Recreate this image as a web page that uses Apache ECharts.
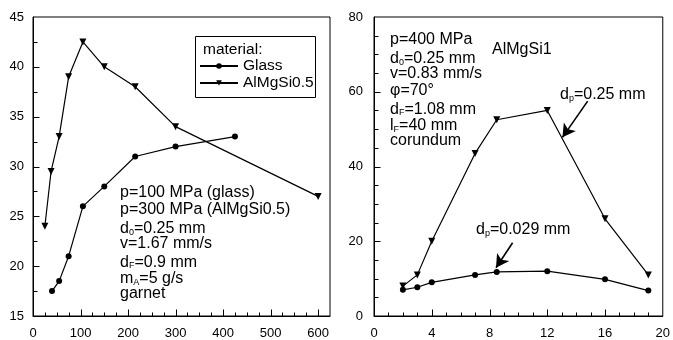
<!DOCTYPE html>
<html>
<head>
<meta charset="utf-8">
<script src="https://cdn.jsdelivr.net/npm/echarts@6/dist/echarts.min.js"></script>
<style>
  html, body { margin: 0; padding: 0; background: #fff; }
  #chart { width: 673px; height: 340px; }
</style>
</head>
<body>
<div id="chart"></div>
<script>
// Left panel: nozzle wear vs. time for glass and AlMgSi0.5
const glassX = [40, 55, 75, 105, 150, 215, 300, 425];
const glassY = [17.5, 18.5, 21, 26, 28, 31, 32, 33];
const almgsi05X = [25, 38, 55, 75, 105, 150, 215, 300, 600];
const almgsi05Y = [24, 29.5, 33, 39, 42.5, 40, 38, 34, 27];

// Right panel: AlMgSi1, two particle diameters
const coarseX = [2, 3, 4, 7, 8.5, 12, 16, 19];
const coarseY = [8, 11, 20, 43.5, 52.5, 55, 26, 11];
const fineX = [2, 3, 4, 7, 8.5, 12, 16, 19];
const fineY = [7, 7.7, 9, 11, 11.8, 12, 9.8, 6.8];

// Axis ranges, label steps and minor tick steps
const leftX = { min: 0, max: 625, step: 100, minor: 25 };
const leftY = { min: 15, max: 45, step: 5, minor: 2.5 };
const rightX = { min: 0, max: 20, step: 4, minor: 1 };
const rightY = { min: 0, max: 80, step: 20, minor: 5 };

// Legend
const legendTitle = 'material:';
const seriesNames = ['Glass', 'AlMgSi0.5'];

// Parameter notes ({s|..} marks a subscript)
const leftNotes = [
  '{n|p=100 MPa (glass)}',
  '{n|p=300 MPa (AlMgSi0.5)}',
  '{n|d}{s|0}{n|=0.25 mm}',
  '{n|v=1.67 mm/s}',
  '{n|d}{s|F}{n|=0.9 mm}',
  '{n|m}{s|A}{n|=5 g/s}',
  '{n|garnet}'
];
const rightNotes = [
  '{n|p=400 MPa}',
  '{n|d}{s|0}{n|=0.25 mm}',
  '{n|v=0.83 mm/s}',
  '{n|φ=70°}',
  '{n|d}{s|F}{n|=1.08 mm}',
  '{n|l}{s|F}{n|=40 mm}',
  '{n|corundum}'
];
const materialLabel = 'AlMgSi1';
const coarseLabel = '{n|d}{s|p}{n|=0.25 mm}';
const fineLabel = '{n|d}{s|p}{n|=0.029 mm}';

// Arrow annotations in data units: [from, to]
const coarseArrow = [[14.8, 57.5], [13.05, 47.8]];
const fineArrow = [[9.6, 19.6], [8.45, 12.9]];

const FONT = '"Liberation Sans", Arial, sans-serif';
const rich = {
  n: { fontSize: 16, lineHeight: 16, verticalAlign: 'top', fontFamily: FONT, fill: '#000' },
  s: { fontSize: 9, lineHeight: 9, padding: [9, 0, 0, 0], verticalAlign: 'bottom', fontFamily: FONT, fill: '#000' }
};

function zip(xs, ys) { return xs.map((x, i) => [x, ys[i]]); }

function noteBlock(lines, left, firstCenter, step) {
  return lines.map((t, i) => ({
    type: 'text', left: left, top: firstCenter - 8 + i * step, silent: true,
    style: { text: t, rich: rich, fill: '#000' }
  }));
}

function labelStyle(extra) {
  return Object.assign({ color: '#000', fontSize: 13, fontFamily: FONT }, extra);
}
function axisLine() {
  return { show: true, onZero: false, lineStyle: { color: '#000', width: 1 } };
}

// Tick positions along an axis: [value, length], long ticks on label steps
function tickList(ax, majorLen, minorLen) {
  const out = [];
  const n = Math.round((ax.max - ax.min) / ax.minor);
  for (let i = 1; i < n; i++) {
    const v = ax.min + i * ax.minor;
    const isMajor = Math.abs(v / ax.step - Math.round(v / ax.step)) < 1e-6;
    out.push([v, isMajor ? majorLen : minorLen]);
  }
  return out;
}

const staticGraphics = [
  { type: 'rect', silent: true, z: 1, shape: { x: 195.5, y: 36.5, width: 120, height: 61 },
    style: { fill: 'none', stroke: '#000', lineWidth: 1 } },
  { type: 'text', left: 203, top: 42, silent: true,
    style: { text: legendTitle, fontSize: 15.5, fontFamily: FONT, fill: '#000' } },
  ...noteBlock(leftNotes, 120, 193, 16.8),
  ...noteBlock(rightNotes, 390, 40, 16.8),
  { type: 'text', left: 492, top: 42, silent: true,
    style: { text: materialLabel, fontSize: 16, fontFamily: FONT, fill: '#000' } },
  { type: 'text', left: 560, top: 85, silent: true, style: { text: coarseLabel, rich: rich, fill: '#000' } },
  { type: 'text', left: 476, top: 220, silent: true, style: { text: fineLabel, rich: rich, fill: '#000' } }
];

const chart = echarts.init(document.getElementById('chart'));

chart.setOption({
  animation: false,
  grid: [
    { left: 33, top: 17, width: 297, height: 300, show: true, borderColor: '#000', borderWidth: 1 },
    { left: 374, top: 17, width: 291, height: 301, show: true, borderColor: '#000', borderWidth: 1 }
  ],
  xAxis: [
    {
      gridIndex: 0, type: 'value', min: leftX.min, max: leftX.max, interval: leftX.step,
      axisLine: axisLine(), axisTick: { show: false },
      axisLabel: labelStyle({ margin: 11, showMaxLabel: false,
        formatter: v => (v % leftX.step === 0 ? String(v) : '') }),
      splitLine: { show: false }
    },
    {
      gridIndex: 1, type: 'value', min: rightX.min, max: rightX.max, interval: rightX.step,
      axisLine: axisLine(), axisTick: { show: false },
      axisLabel: labelStyle({ margin: 11 }),
      splitLine: { show: false }
    }
  ],
  yAxis: [
    {
      gridIndex: 0, type: 'value', min: leftY.min, max: leftY.max, interval: leftY.step,
      axisLine: axisLine(), axisTick: { show: false },
      axisLabel: labelStyle({ margin: 9 }),
      splitLine: { show: false }
    },
    {
      gridIndex: 1, type: 'value', min: rightY.min, max: rightY.max, interval: rightY.step,
      axisLine: axisLine(), axisTick: { show: false },
      axisLabel: labelStyle({ margin: 11 }),
      splitLine: { show: false }
    }
  ],
  legend: {
    left: 199, top: 58, orient: 'vertical', itemGap: 1, z: 10,
    itemWidth: 38, itemHeight: 7, padding: 0,
    data: seriesNames,
    textStyle: { color: '#000', fontSize: 15.5, lineHeight: 16, fontFamily: FONT }
  },
  series: [
    {
      name: seriesNames[0], type: 'line', xAxisIndex: 0, yAxisIndex: 0,
      data: zip(glassX, glassY),
      symbol: 'circle', symbolSize: 6,
      lineStyle: { color: '#000', width: 1.2 }, itemStyle: { color: '#000' }
    },
    {
      name: seriesNames[1], type: 'line', xAxisIndex: 0, yAxisIndex: 0,
      data: zip(almgsi05X, almgsi05Y),
      symbol: 'triangle', symbolRotate: 180, symbolSize: 7,
      lineStyle: { color: '#000', width: 1.2 }, itemStyle: { color: '#000' }
    },
    {
      name: 'dp 0.25', type: 'line', xAxisIndex: 1, yAxisIndex: 1,
      data: zip(coarseX, coarseY),
      symbol: 'triangle', symbolRotate: 180, symbolSize: 7,
      lineStyle: { color: '#000', width: 1.2 }, itemStyle: { color: '#000' },
      markLine: {
        silent: true, symbol: ['none', 'arrow'], symbolSize: [11, 13],
        label: { show: false },
        lineStyle: { color: '#000', width: 1.6, type: 'solid' },
        data: [[{ coord: coarseArrow[0] }, { coord: coarseArrow[1] }]]
      }
    },
    {
      name: 'dp 0.029', type: 'line', xAxisIndex: 1, yAxisIndex: 1,
      data: zip(fineX, fineY),
      symbol: 'circle', symbolSize: 6,
      lineStyle: { color: '#000', width: 1.2 }, itemStyle: { color: '#000' },
      markLine: {
        silent: true, symbol: ['none', 'arrow'], symbolSize: [11, 13],
        label: { show: false },
        lineStyle: { color: '#000', width: 1.6, type: 'solid' },
        data: [[{ coord: fineArrow[0] }, { coord: fineArrow[1] }]]
      }
    }
  ],
  graphic: staticGraphics
});

// Inward tick marks, placed through each grid's own scales
function tickLines(gridIndex, ax, other, horizontal, majorLen, minorLen) {
  return tickList(ax, majorLen, minorLen).map(([v, len]) => {
    const p = chart.convertToPixel({ gridIndex: gridIndex }, horizontal ? [v, other.min] : [other.min, v]);
    const x = Math.round(p[0]) + 0.5;
    const y = Math.round(p[1]) + 0.5;
    return {
      type: 'line', silent: true, z: 4,
      shape: horizontal ? { x1: x, y1: y, x2: x, y2: y - len } : { x1: x, y1: y, x2: x + len, y2: y },
      style: { stroke: '#000', lineWidth: 1 }
    };
  });
}

chart.setOption({
  graphic: staticGraphics.concat(
    tickLines(0, leftX, leftY, true, 7, 4),
    tickLines(0, leftY, leftX, false, 6, 4),
    tickLines(1, rightX, rightY, true, 7, 4),
    tickLines(1, rightY, rightX, false, 6, 4)
  )
});
</script>
</body>
</html>
